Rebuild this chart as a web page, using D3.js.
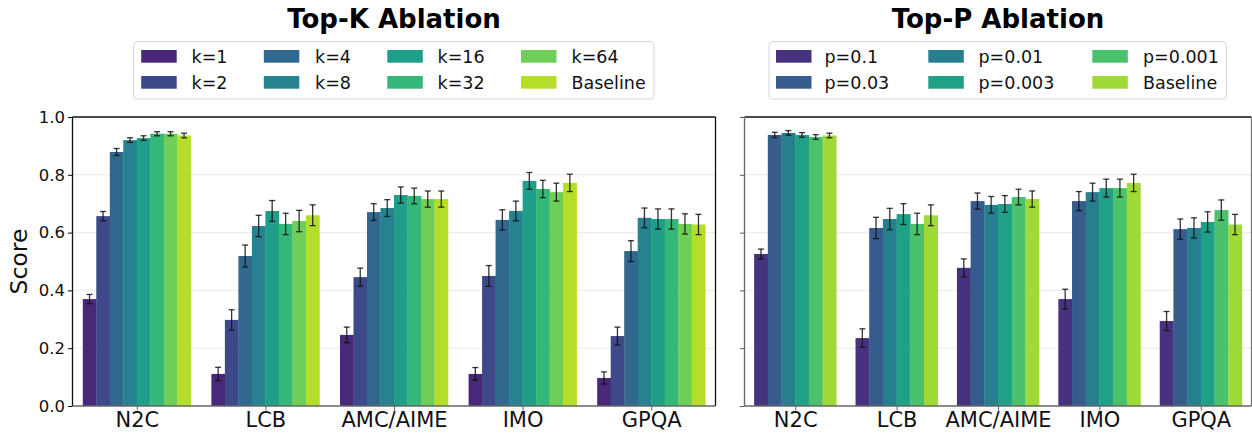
<!DOCTYPE html>
<html>
<head>
<meta charset="utf-8">
<script src="https://cdn.jsdelivr.net/npm/d3@7"></script>
<style>
  html, body { margin: 0; padding: 0; background: #fff; }
  svg { display: block; font-family: "DejaVu Sans", sans-serif; }
</style>
</head>
<body>
<svg id="chart" width="1252" height="436"></svg>
<script>
// ---------------- DATA ----------------
const categories = ["N2C", "LCB", "AMC/AIME", "IMO", "GPQA"];
const yTicks = [0.0, 0.2, 0.4, 0.6, 0.8, 1.0];

const topKSeries = ["k=1", "k=2", "k=4", "k=8", "k=16", "k=32", "k=64", "Baseline"];
const topKValues = [
  [0.370, 0.111, 0.246, 0.111, 0.097],   // k=1
  [0.657, 0.298, 0.446, 0.450, 0.242],   // k=2
  [0.879, 0.519, 0.671, 0.644, 0.536],   // k=4
  [0.920, 0.623, 0.685, 0.675, 0.651],   // k=8
  [0.927, 0.675, 0.730, 0.779, 0.647],   // k=16
  [0.942, 0.630, 0.727, 0.751, 0.647],   // k=32
  [0.942, 0.640, 0.716, 0.740, 0.630],   // k=64
  [0.936, 0.660, 0.716, 0.772, 0.628]    // Baseline
];
const topKErrors = [
  [0.016, 0.023, 0.027, 0.022, 0.021],
  [0.016, 0.035, 0.031, 0.036, 0.031],
  [0.012, 0.038, 0.029, 0.035, 0.036],
  [0.008, 0.037, 0.029, 0.034, 0.034],
  [0.008, 0.036, 0.028, 0.029, 0.035],
  [0.007, 0.037, 0.027, 0.030, 0.035],
  [0.007, 0.037, 0.028, 0.031, 0.035],
  [0.008, 0.036, 0.028, 0.030, 0.035]
];

const topPSeries = ["p=0.1", "p=0.03", "p=0.01", "p=0.003", "p=0.001", "Baseline"];
const topPValues = [
  [0.526, 0.235, 0.478, 0.370, 0.294],   // p=0.1
  [0.938, 0.616, 0.709, 0.709, 0.612],   // p=0.03
  [0.945, 0.647, 0.696, 0.740, 0.616],   // p=0.01
  [0.938, 0.664, 0.699, 0.754, 0.637],   // p=0.003
  [0.931, 0.630, 0.723, 0.754, 0.678],   // p=0.001
  [0.936, 0.660, 0.716, 0.772, 0.628]    // Baseline
];
const topPErrors = [
  [0.017, 0.032, 0.031, 0.034, 0.033],
  [0.009, 0.037, 0.028, 0.033, 0.035],
  [0.008, 0.037, 0.029, 0.031, 0.035],
  [0.008, 0.036, 0.029, 0.031, 0.035],
  [0.008, 0.037, 0.027, 0.031, 0.035],
  [0.008, 0.036, 0.028, 0.030, 0.035]
];

// ---------------- DRAW ----------------
const svg = d3.select("#chart");
const yTop = 117, yBottom = 406;
const y = d3.scaleLinear().domain([0, 1]).range([yBottom, yTop]);

function panel(opts) {
  const { x0, x1, series, values, errors, groupFrac, title, legendBox, legendCols, showYLabels } = opts;
  const n = series.length;
  const color = i => d3.interpolateViridis((i + 1) / (n + 1));
  const x = d3.scaleLinear().domain([-0.5, categories.length - 0.5]).range([x0, x1]);
  const g = svg.append("g");

  // grid
  g.selectAll("line.grid").data(yTicks.filter(t => t > 0 && t < 1)).join("line")
    .attr("x1", x0).attr("x2", x1)
    .attr("y1", d => y(d)).attr("y2", d => y(d))
    .attr("stroke", "#ebebeb").attr("stroke-width", 1);

  // bars
  const bw = groupFrac / n;
  series.forEach((s, j) => {
    const data = values[j].map((v, i) => ({ v, e: errors[j][i], i }));
    g.selectAll(null).data(data).join("rect")
      .attr("x", d => x(d.i - groupFrac / 2 + j * bw))
      .attr("width", x(bw) - x(0) + 0.3)
      .attr("y", d => y(d.v))
      .attr("height", d => y(0) - y(d.v))
      .attr("fill", color(j));
  });
  // error bars
  series.forEach((s, j) => {
    const data = values[j].map((v, i) => ({ v, e: errors[j][i], i }));
    const cx = d => x(d.i - groupFrac / 2 + (j + 0.5) * bw);
    const eg = g.selectAll(null).data(data).join("g")
      .attr("stroke", "#111").attr("stroke-opacity", 0.85).attr("stroke-width", 1.3);
    eg.append("line").attr("x1", cx).attr("x2", cx)
      .attr("y1", d => y(d.v - d.e)).attr("y2", d => y(d.v + d.e));
    eg.append("line").attr("x1", d => cx(d) - 3).attr("x2", d => cx(d) + 3)
      .attr("y1", d => y(d.v - d.e)).attr("y2", d => y(d.v - d.e));
    eg.append("line").attr("x1", d => cx(d) - 3).attr("x2", d => cx(d) + 3)
      .attr("y1", d => y(d.v + d.e)).attr("y2", d => y(d.v + d.e));
  });

  // y axis
  const yAxis = d3.axisLeft(y).tickValues(yTicks).tickSize(4.5).tickPadding(3)
    .tickFormat(showYLabels ? d3.format(".1f") : () => "");
  const ya = g.append("g").attr("transform", `translate(${x0},0)`).call(yAxis);
  ya.select(".domain").remove();
  ya.selectAll(".tick line").attr("stroke", showYLabels ? "#000" : "#555").attr("stroke-width", 1);
  ya.selectAll(".tick text").attr("font-size", 16.5).attr("fill", "#111")
    .attr("font-family", "DejaVu Sans");

  // x axis
  const xAxis = d3.axisBottom(x).tickValues(d3.range(categories.length)).tickSize(4.5).tickPadding(2)
    .tickFormat(i => categories[i]);
  const xa = g.append("g").attr("transform", `translate(0,${yBottom})`).call(xAxis);
  xa.select(".domain").remove();
  xa.selectAll(".tick line").attr("stroke", "#666").attr("stroke-width", 1);
  xa.selectAll(".tick text").attr("font-size", 21).attr("fill", "#111")
    .attr("font-family", "DejaVu Sans");

  // spines
  g.append("line").attr("x1", x0).attr("x2", x1).attr("y1", yTop).attr("y2", yTop)
    .attr("stroke", "#111").attr("stroke-width", 1.3);
  g.append("line").attr("x1", x1).attr("x2", x1).attr("y1", yTop).attr("y2", yBottom)
    .attr("stroke", showYLabels ? "#111" : "#777").attr("stroke-width", 1.3);
  g.append("line").attr("x1", x0).attr("x2", x0).attr("y1", yTop).attr("y2", yBottom)
    .attr("stroke", showYLabels ? "#111" : "#666").attr("stroke-width", 1.3);
  g.append("line").attr("x1", x0).attr("x2", x1).attr("y1", yBottom).attr("y2", yBottom)
    .attr("stroke", "#666").attr("stroke-width", 1.5);

  // title
  g.append("text").attr("x", (x0 + x1) / 2).attr("y", 27.5)
    .attr("text-anchor", "middle").attr("font-size", 26).attr("font-weight", "bold")
    .attr("fill", "#000").text(title);

  // legend
  const lb = legendBox;
  g.append("rect").attr("x", lb.x).attr("y", lb.y).attr("width", lb.w).attr("height", lb.h)
    .attr("rx", 4).attr("fill", "#fff").attr("stroke", "#d6d6d6").attr("stroke-width", 1);
  series.forEach((s, j) => {
    const col = Math.floor(j / 2), row = j % 2;
    const px = legendCols.patch[col], tx = legendCols.text[col];
    const py = 50 + row * 26;
    g.append("rect").attr("x", px).attr("y", py).attr("width", 35.5).attr("height", 12.7)
      .attr("fill", color(j));
    g.append("text").attr("x", tx).attr("y", py + 12.6).attr("font-size", 17.5)
      .attr("fill", "#111").text(s);
  });
}

panel({
  x0: 72.5, x1: 715.5, series: topKSeries, values: topKValues, errors: topKErrors,
  groupFrac: 0.84, title: "Top-K Ablation",
  legendBox: { x: 133.5, y: 41.5, w: 520.5, h: 57.5 },
  legendCols: { patch: [141.2, 263.8, 387.3, 521], text: [191.5, 315, 437.5, 571.5] },
  showYLabels: true
});
panel({
  x0: 744.5, x1: 1251.5, series: topPSeries, values: topPValues, errors: topPErrors,
  groupFrac: 0.81, title: "Top-P Ablation",
  legendBox: { x: 769, y: 41.5, w: 457.5, h: 57.5 },
  legendCols: { patch: [776, 928.3, 1092.3], text: [824.5, 978.5, 1143] },
  showYLabels: false
});

// y label
svg.append("text").attr("transform", "translate(27,261.5) rotate(-90)")
  .attr("text-anchor", "middle").attr("font-size", 23.5).attr("fill", "#111")
  .text("Score");
</script>
</body>
</html>
